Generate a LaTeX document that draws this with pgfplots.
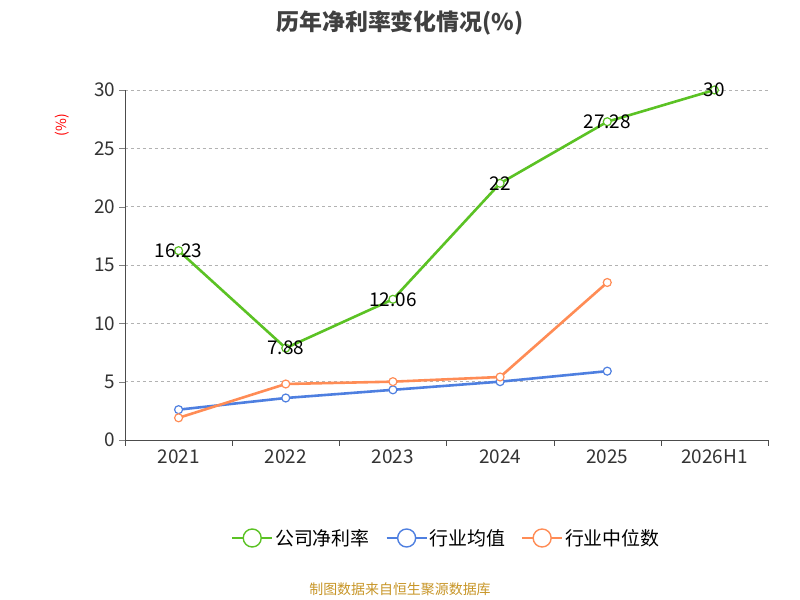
\documentclass[border=0pt]{standalone}
\usepackage{pgfplots}
\pgfplotsset{compat=1.18}
\usepackage{fontspec}
\setmainfont{Noto Sans CJK SC}
\definecolor{cg}{HTML}{5BC224}
\definecolor{cb}{HTML}{4E7FE0}
\definecolor{co}{HTML}{FF8C55}
\begin{document}
\begin{tikzpicture}[x=1bp,y=1bp]
\path[fill=white] (0,0) rectangle (800,600);
\node[font=\bfseries\fontsize{23}{27}\selectfont,text=black!75] at (400,577) {历年净利率变化情况(\%)};
\node[rotate=90,text=red,font=\fontsize{14}{16}\selectfont] at (62,475) {(\%)};
\begin{axis}[at={(125bp,160bp)},anchor=south west,scale only axis,width=643bp,height=350bp,
 xmin=-0.5,xmax=5.5,ymin=0,ymax=30,clip=false,
 xtick={0,...,5},xticklabels={2021,2022,2023,2024,2025,2026H1},
 minor xtick={-0.5,0.5,...,5.5},
 major x tick style={draw=none},
 minor x tick style={black!70},
 ytick={0,5,...,30},
 tick align=outside, major tick length=6bp, minor tick length=6bp,
 axis x line*=bottom, axis y line*=left,
 axis line style={black!70},
 ymajorgrids, grid style={dashed,black!30},
 ticklabel style={font=\fontsize{19}{22}\selectfont,text=black!80},
 /pgf/number format/assume math mode=true,
 every axis plot/.style={line width=2.6pt,mark=*,mark size=4pt,mark options={fill=white,line width=1.2pt}},
 legend style={at={(0.5,-0.28)},anchor=center,draw=none,legend columns=3,font=\fontsize{19}{22}\selectfont,/tikz/every even column/.append style={column sep=14bp}},
 legend image code/.code={\draw[#1,line width=1.8pt] (0bp,0bp)--(40bp,0bp); \draw[#1,fill=white,line width=1.4pt] (20bp,0bp) circle (9bp);}
]
\addplot[cg,nodes near coords,point meta=explicit symbolic,every node near coord/.style={font=\fontsize{19}{22}\selectfont,text=black,anchor=center}] coordinates {(0,16.23)[16.23] (1,7.88)[7.88] (2,12.06)[12.06] (3,22)[22] (4,27.28)[27.28] (5,30)[30]};
\addlegendentry{公司净利率}
\addplot[cb] coordinates {(0,2.6) (1,3.6) (2,4.3) (3,5.0) (4,5.9)};
\addlegendentry{行业均值}
\addplot[co] coordinates {(0,1.9) (1,4.8) (2,5.0) (3,5.4) (4,13.5)};
\addlegendentry{行业中位数}
\end{axis}
\node[text={rgb,255:red,200;green,150;blue,40},font=\fontsize{14}{16}\selectfont] at (400,11) {制图数据来自恒生聚源数据库};
\end{tikzpicture}
\end{document}
